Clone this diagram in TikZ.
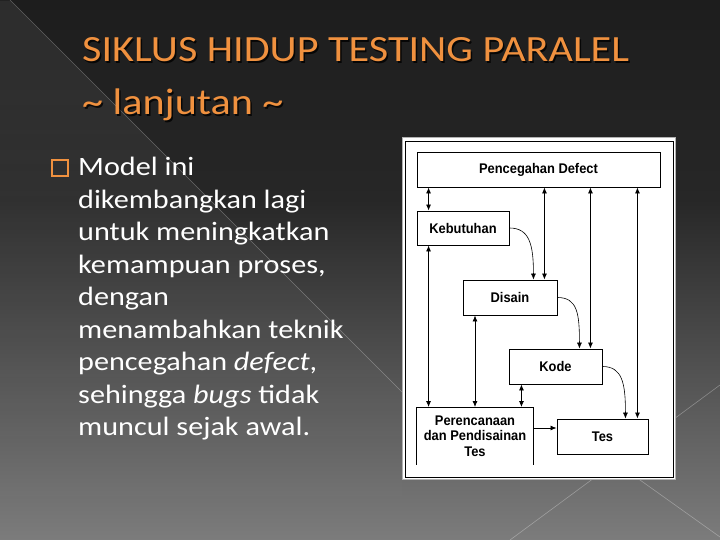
\documentclass[tikz,border=0pt]{standalone}
\usepackage{fontspec}
\setmainfont[FakeStretch=1.14]{Carlito}
\newfontfamily\skemafont[FakeStretch=0.92]{Liberation Sans}
\usetikzlibrary{arrows.meta,fadings}

\definecolor{jingga}{HTML}{F0913F}
\definecolor{latatas}{HTML}{1D1D1D}
\definecolor{lattengah}{HTML}{272727}
\definecolor{latbawah}{HTML}{7C7C7C}

\tikzset{
	blok/.style={draw, fill=white, line width=0.9pt, inner sep=0pt, align=center, font=\skemafont\bfseries\fontsize{14}{15.5}\selectfont},
	panah/.style={-{Latex[length=6pt,width=5pt]}, line width=0.8pt},
	duapanah/.style={{Latex[length=6pt,width=5pt]}-{Latex[length=6pt,width=5pt]}, line width=0.8pt},
	lengkung/.style={panah, line width=0.6pt},
	judul/.style={anchor=base west, inner sep=0pt, font=\fontsize{37}{40}\selectfont},
}

\begin{document}
\begin{tikzpicture}[x=1pt,y=-1pt]
		\useasboundingbox (0,0) rectangle (720,540);
		% latar
		\shade[top color=latatas, bottom color=lattengah] (0,0) rectangle (720,200);
		\shade[top color=lattengah, bottom color=latbawah] (0,200) rectangle (720,540);
		\fill[white, opacity=0.07, path fading=south] (0,0) -- (10,0) -- (402,392) -- (402,540) -- (0,540) -- cycle;
		\draw[white, opacity=0.3, line width=0.6pt] (10,0) -- (402,392);
		\draw[white, opacity=0.3, line width=0.6pt] (510,540) -- (720,385);
		\draw[white, opacity=0.3, line width=0.6pt] (560,423) -- (720,537);

		% judul
		\node[judul, black, opacity=0.8] at (83.5,63.5) {SIKLUS HIDUP TESTING PARALEL};
		\node[judul, jingga] (judul1) at (82,62) {SIKLUS HIDUP TESTING PARALEL};
		\node[judul, black, opacity=0.8] at (83.5,116.5) {\textasciitilde{} lanjutan \textasciitilde};
		\node[judul, jingga] (judul2) at (82,115) {\textasciitilde{} lanjutan \textasciitilde};

		% isi
		\node[draw=jingga, line width=2pt, inner sep=0pt, minimum size=16.5pt] (tanda) at (60,168) {};
		\node[anchor=north west, inner sep=0pt, white, align=left, font=\fontsize{26.5}{32.5}\selectfont] (isi) at (78,157) {Model ini\\dikembangkan lagi\\untuk meningkatkan\\kemampuan proses,\\dengan\\menambahkan teknik\\pencegahan \textit{defect},\\sehingga \textit{bugs} tidak\\muncul sejak awal.};

		% bingkai gambar
		\fill[white, draw=gray!60, line width=1pt] (402,138) rectangle (675,479);
		\draw[line width=0.8pt] (405,141) rectangle (673,477);

		\node[blok, minimum width=243pt, minimum height=35pt] (pd) at (538.5,169.5) {Pencegahan Defect};
		\node[blok, minimum width=92pt, minimum height=34pt] (kb) at (463,228) {Kebutuhan};
		\node[blok, minimum width=94pt, minimum height=35pt] (ds) at (510,297.5) {Disain};
		\node[blok, minimum width=93pt, minimum height=35pt] (kd) at (555.5,366.5) {Kode};
		\node[blok, draw=none, minimum width=116pt, minimum height=57pt] (pr) at (475,436) {Perencanaan\\dan Pendisainan\\Tes};
		\draw[line width=0.9pt] (pr.south west) |- (pr.north east) -- (pr.south east);
		\node[blok, minimum width=91pt, minimum height=35pt] (ts) at (602.5,436.5) {Tes};

		\coordinate (a1) at ([xshift=12pt]kb.north west);
		\coordinate (a2) at ([xshift=-13pt]ds.north east);
		\coordinate (a3) at ([xshift=-12pt]kd.north east);
		\coordinate (a4) at ([xshift=-11pt]ts.north east);
		\coordinate (b1) at ([xshift=12pt]pr.north west);
		\coordinate (b3) at ([xshift=-12pt]pr.north east);
		\coordinate (c1) at ([yshift=8.5pt]ts.west);
		\coordinate (d1) at ([xshift=-24pt]ds.north east);
		\coordinate (d2) at ([xshift=-23pt]kd.north east);
		\coordinate (d3) at ([xshift=-23pt]ts.north east);

		\draw[duapanah] (a1 |- pd.south) -- (a1);
		\draw[duapanah] (a2 |- pd.south) -- (a2);
		\draw[duapanah] (a3 |- pd.south) -- (a3);
		\draw[duapanah] (a4 |- pd.south) -- (a4);

		\draw[duapanah] (b1 |- kb.south) -- (b1);
		\draw[duapanah] (pr.north |- ds.south) -- (pr.north);
		\draw[duapanah] (b3 |- kd.south) -- (b3);
		\draw[panah] (c1 -| pr.east) -- (c1);

		\draw[lengkung] (kb.east) .. controls +(20,0) and +(0,-35) .. (d1);
		\draw[lengkung] (ds.east) .. controls +(20,0) and +(0,-35) .. (d2);
		\draw[lengkung] (kd.east) .. controls +(20,0) and +(0,-35) .. (d3);
	\end{tikzpicture}
\end{document}
